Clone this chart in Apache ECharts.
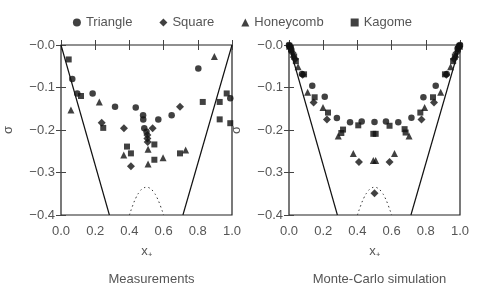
<!DOCTYPE html>
<html><head><meta charset="utf-8">
<script src="https://cdn.jsdelivr.net/npm/echarts@6/dist/echarts.min.js"></script>
<style>html,body{margin:0;padding:0;background:#fff}#c{width:485px;height:290px}</style>
</head><body><div id="c"></div>
<script>
// ---- data ----
var seriesNames = ['Triangle', 'Square', 'Honeycomb', 'Kagome'];
var panelTitles = ['Measurements', 'Monte-Carlo simulation'];
var xTicks = [0.0, 0.2, 0.4, 0.6, 0.8, 1.0];
var yTicks = [0.0, -0.1, -0.2, -0.3, -0.4];

// Measurements
var triangleMeas = [[0.066,-0.080],[0.095,-0.114],[0.185,-0.114],[0.316,-0.145],[0.437,-0.147],[0.480,-0.165],[0.481,-0.175],[0.487,-0.196],[0.500,-0.204],[0.569,-0.175],[0.647,-0.165],[0.803,-0.055],[0.990,-0.125]];
var squareMeas = [[0.238,-0.183],[0.368,-0.196],[0.409,-0.285],[0.505,-0.212],[0.505,-0.220],[0.507,-0.228],[0.536,-0.196],[0.696,-0.145]];
var honeycombMeas = [[0.058,-0.153],[0.224,-0.134],[0.367,-0.259],[0.509,-0.245],[0.509,-0.280],[0.597,-0.265],[0.729,-0.247],[0.897,-0.027]];
var kagomeMeas = [[0.045,-0.034],[0.117,-0.120],[0.247,-0.195],[0.386,-0.239],[0.409,-0.255],[0.546,-0.234],[0.546,-0.270],[0.696,-0.255],[0.829,-0.134],[0.928,-0.134],[0.928,-0.175],[0.969,-0.114],[0.990,-0.184]];

// Monte-Carlo simulation
var triangleMC = [[0.000,0.000],[0.006,-0.004],[0.014,-0.012],[0.076,-0.068],[0.136,-0.096],[0.209,-0.122],[0.280,-0.172],[0.357,-0.182],[0.425,-0.180],[0.500,-0.181],[0.567,-0.180],[0.639,-0.182],[0.716,-0.171],[0.786,-0.123],[0.858,-0.096],[0.922,-0.068],[0.986,-0.008],[0.994,-0.003],[1.000,0.000]];
var squareMC = [[0.004,-0.004],[0.020,-0.018],[0.035,-0.033],[0.080,-0.070],[0.144,-0.135],[0.222,-0.175],[0.409,-0.275],[0.500,-0.349],[0.588,-0.275],[0.775,-0.175],[0.848,-0.135],[0.920,-0.070],[0.965,-0.033],[0.980,-0.018],[0.996,-0.004]];
var honeycombMC = [[0.003,-0.003],[0.025,-0.022],[0.053,-0.051],[0.109,-0.111],[0.199,-0.147],[0.288,-0.214],[0.376,-0.255],[0.493,-0.272],[0.507,-0.272],[0.617,-0.255],[0.702,-0.214],[0.793,-0.147],[0.887,-0.111],[0.945,-0.051],[0.975,-0.022],[0.997,-0.003]];
var kagomeMC = [[0.002,-0.002],[0.012,-0.010],[0.030,-0.027],[0.040,-0.038],[0.088,-0.069],[0.150,-0.123],[0.228,-0.159],[0.306,-0.207],[0.316,-0.199],[0.405,-0.189],[0.493,-0.209],[0.507,-0.209],[0.588,-0.190],[0.682,-0.206],[0.676,-0.198],[0.768,-0.159],[0.842,-0.123],[0.912,-0.069],[0.960,-0.038],[0.970,-0.027],[0.988,-0.010],[0.998,-0.002]];

// bounding lines and dotted curve (same in both panels)
var leftBound = [[0.0,0.0],[0.283,-0.4]];
var rightBound = [[1.0,0.0],[0.713,-0.4]];
var dottedCurve = [[0.40,-0.400],[0.42,-0.377],[0.44,-0.358],[0.46,-0.345],[0.48,-0.337],[0.50,-0.335],[0.52,-0.337],[0.54,-0.345],[0.56,-0.358],[0.58,-0.377],[0.60,-0.400]];

// ---- chart ----
var chart = echarts.init(document.getElementById('c'), null, {renderer:'canvas'});
var FONT = 'Liberation Sans';
var TXT = '#555';
var symbols = ['circle','diamond','triangle','rect'];
var symSizes = [6.5, 8, 7, 6];
var panels = [[triangleMeas, squareMeas, honeycombMeas, kagomeMeas],[triangleMC, squareMC, honeycombMC, kagomeMC]];
var gridLefts = [61, 289];

var grids = [], xAxes = [], yAxes = [], series = [], titles = [];
function fmtY(v){ return (v <= 0 ? '\u2212' : '') + Math.abs(v).toFixed(1); }
for (var p = 0; p < 2; p++) {
  grids.push({left: gridLefts[p], top: 45, width: 171, height: 170, show: true, borderColor: '#222', borderWidth: 1.2, backgroundColor: 'transparent'});
  var xi = xAxes.length, yi = yAxes.length;
  xAxes.push({type:'value', gridIndex:p, min:xTicks[0], max:xTicks[xTicks.length-1], interval:0.2, position:'bottom',
    name:'x\u208A', nameLocation:'middle', nameGap:30, nameTextStyle:{fontFamily:FONT, fontSize:13, color:TXT},
    axisLine:{show:false}, axisTick:{show:true, inside:true, length:5, lineStyle:{color:'#444'}}, splitLine:{show:false},
    axisLabel:{fontFamily:FONT, fontSize:13, color:TXT, margin:10, formatter:function(v){return v.toFixed(1);}}});
  xAxes.push({type:'value', gridIndex:p, min:0, max:1, interval:0.2, position:'top',
    axisLine:{show:false}, axisTick:{show:true, inside:true, length:5, lineStyle:{color:'#444'}}, splitLine:{show:false}, axisLabel:{show:false}});
  yAxes.push({type:'value', gridIndex:p, min:yTicks[yTicks.length-1], max:yTicks[0], interval:0.1, position:'left',
    name:'\u03C3', nameLocation:'middle', nameGap:46, nameRotate:90, nameTextStyle:{fontFamily:FONT, fontSize:13, color:TXT},
    axisLine:{show:false}, axisTick:{show:true, inside:true, length:5, lineStyle:{color:'#444'}}, splitLine:{show:false},
    axisLabel:{fontFamily:FONT, fontSize:13, color:TXT, margin:6, formatter:fmtY}});
  yAxes.push({type:'value', gridIndex:p, min:-0.4, max:0, interval:0.1, position:'right',
    axisLine:{show:false}, axisTick:{show:true, inside:true, length:5, lineStyle:{color:'#444'}}, splitLine:{show:false}, axisLabel:{show:false}});

  series.push({type:'line', xAxisIndex:xi, yAxisIndex:yi, data:leftBound, showSymbol:false, symbol:'none', lineStyle:{color:'#111', width:1.2}, clip:true, silent:true});
  series.push({type:'line', xAxisIndex:xi, yAxisIndex:yi, data:rightBound, showSymbol:false, symbol:'none', lineStyle:{color:'#111', width:1.2}, clip:true, silent:true});
  series.push({type:'line', xAxisIndex:xi, yAxisIndex:yi, data:dottedCurve, smooth:true, showSymbol:false, symbol:'none', lineStyle:{color:'#333', width:1, type:[1.5,3]}, clip:true, silent:true});
  for (var s = 0; s < 4; s++) {
    series.push({type:'scatter', name:seriesNames[s], xAxisIndex:xi, yAxisIndex:yi, data:panels[p][s],
      symbol:symbols[s], symbolSize:symSizes[s], itemStyle:{color:'#111'}, z:5});
  }
  titles.push({text:panelTitles[p], left: gridLefts[p] + 85.5, top: 268, textAlign:'center',
    textStyle:{fontFamily:FONT, fontSize:13, fontWeight:'normal', color:TXT}});
}

chart.setOption({
  animation:false,
  backgroundColor:'#fff',
  title: titles,
  legend:{top:11, left:'center', itemGap:27, itemWidth:8, itemHeight:8, data:seriesNames.map(function(n,i){return {name:n, icon:symbols[i]};}),
    textStyle:{fontFamily:FONT, fontSize:13, color:TXT}, itemStyle:{color:'#111'}},
  grid: grids, xAxis: xAxes, yAxis: yAxes, series: series
});
</script></body></html>
